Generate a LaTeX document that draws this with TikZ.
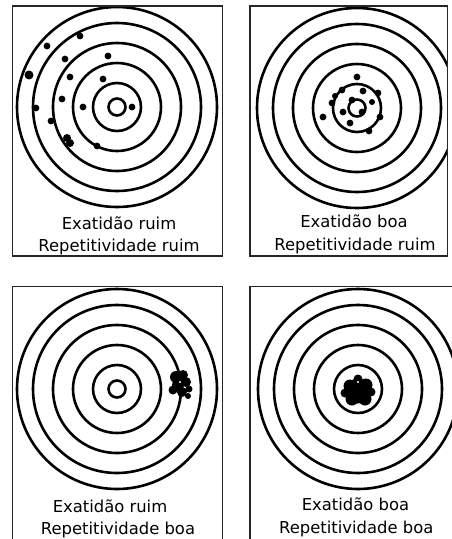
\documentclass[tikz,border=0pt]{standalone}
\usepackage{fontspec}
\newfontfamily\labelfont{DejaVu Sans}
\usetikzlibrary{calc}

\tikzset{
  target/.style={line width=2.6pt, black},
  frame/.style={line width=1.5pt, black!85},
  caption/.style={anchor=base, inner sep=0pt, font=\labelfont\fontsize{16.4}{20}\selectfont}
}

\begin{document}
\begin{tikzpicture}[x=1pt, y=-1pt]

\useasboundingbox (0,0) rectangle (451,539);

\def\rA{100pt}
\def\rB{84pt}
\def\rC{64pt}
\def\rD{44pt}
\def\rE{24pt}
\def\rF{8.5pt}
\def\dot{3.4pt}

% top left: poor accuracy, poor repeatability
\draw[target] (117,107) circle (\rA) circle (\rB) circle (\rC) circle (\rD) circle (\rE) circle (\rF);
\draw[frame] (12.7,6) rectangle (222.7,256);

\fill (80,36) circle (\dot);
\fill (47,46) circle (\dot);
\fill (65,59) circle (\dot);
\fill (108,56) circle (\dot);
\fill (29,75) circle (4.5pt);
\fill (70,77) circle (\dot);
\fill (103,79) circle (\dot);
\fill (62,99) circle (\dot);
\fill (36,108) circle (\dot);
\fill (83,107) circle (\dot);
\fill (132,107) circle (\dot);
\fill (51,121) circle (\dot);
\fill (67,138) circle (4pt);
\fill (70,143) circle (4pt);
\fill (97,146) circle (\dot);

\node[caption] (exatA) at (119,229.5) {Exatidão ruim};
\node[caption] (repetA) at (119,251.7) {Repetitividade ruim};

% top right: good accuracy, poor repeatability
\begin{scope}
\clip (250,6) rectangle (447.7,256);
\draw[target] (357,108) circle (\rA) circle (\rB) circle (\rC) circle (\rD) circle (\rE) circle (\rF);
\end{scope}
\draw[frame] (250,6) rectangle (447.7,256);

\fill (357,77) circle (\dot);
\fill (363,91) circle (\dot);
\fill (342,90) circle (\dot);
\fill (378,93) circle (\dot);
\fill (332,103) circle (\dot);
\fill (352,100) circle (\dot);
\fill (343,112) circle (\dot);
\fill (362,112) circle (\dot);
\fill (380,117) circle (\dot);
\fill (323,117) circle (\dot);
\fill (350,123) circle (\dot);
\fill (369,131) circle (\dot);
\fill (335,96) circle (3pt);
\fill (372,102) circle (3pt);

\node[caption] (exatB) at (354,227) {Exatidão boa};
\node[caption] (repetB) at (355,250.7) {Repetitividade ruim};

% bottom left: poor accuracy, good repeatability
\draw[target] (117,389) circle (\rA) circle (\rB) circle (\rC) circle (\rD) circle (\rE) circle (\rF);
\draw[frame] (12.7,540) -- (12.7,286.7) -- (222.7,286.7) -- (222.7,540);

\fill (176,377) circle (6pt);
\fill (183,375) circle (5pt);
\fill (186,382) circle (5pt);
\fill (178,385) circle (6pt);
\fill (173,390) circle (4.5pt);
\fill (182,392) circle (5pt);
\fill (189,389) circle (3.5pt);
\fill (188,396) circle (3pt);
\fill[white] (180,382) circle (1.2pt);

\node[caption] (exatC) at (110,512) {Exatidão ruim};
\node[caption] (repetC) at (118,534) {Repetitividade boa};

% bottom right: good accuracy, good repeatability
\draw[target] (358,389) circle (\rA) circle (\rB) circle (\rC) circle (\rD) circle (\rE);
\draw[frame] (250,540) -- (250,286.7) -- (455,286.7);

\fill (358,391) circle (12.5pt);
\fill (350,386) circle (6.5pt);
\fill (366,385) circle (6.5pt);
\fill (352,399) circle (6.5pt);
\fill (365,399) circle (6.5pt);
\fill (358,379) circle (4.5pt);
\fill (345,393) circle (4.5pt);
\fill (371,392) circle (4.5pt);
\fill[white] (358,382) circle (1.2pt);

\node[caption] (exatD) at (355.5,510) {Exatidão boa};
\node[caption] (repetD) at (356.3,533.3) {Repetitividade boa};

\end{tikzpicture}
\end{document}
